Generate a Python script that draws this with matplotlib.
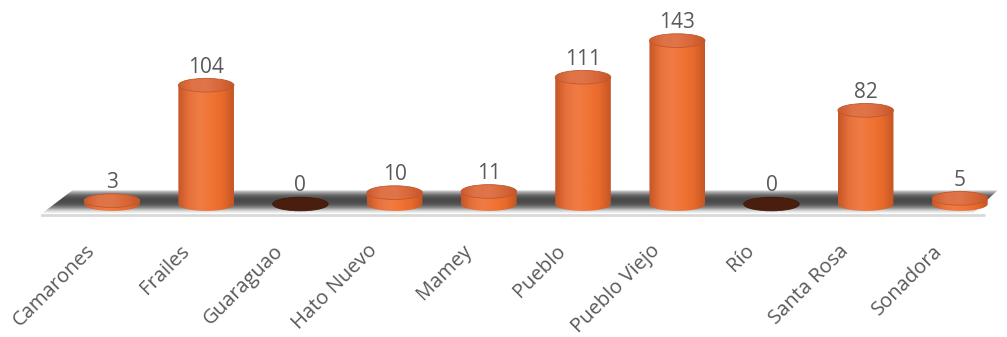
import numpy as np
import matplotlib.pyplot as plt
import matplotlib.transforms as mtransforms
from matplotlib.patches import Ellipse, Polygon
from matplotlib.colors import LinearSegmentedColormap

plt.rcParams['font.family'] = ['Open Sans', 'DejaVu Sans']

categories = ['Camarones', 'Frailes', 'Guaraguao', 'Hato Nuevo', 'Mamey',
              'Pueblo', 'Pueblo Viejo', 'Río', 'Santa Rosa', 'Sonadora']
values = [3, 104, 0, 10, 11, 111, 143, 0, 82, 5]

bar_w = 0.59      # in category units
ell_h = 12.0      # ellipse height in value units
text_col = '#595959'

body_cmap = LinearSegmentedColormap.from_list(
    'body', ['#c65727', '#e8713c', '#f07c45', '#f07434', '#e86a2c', '#c55624'])
top_cmap = LinearSegmentedColormap.from_list(
    'top', ['#cc5c2e', '#df7246', '#e0754a', '#d8673a', '#c55628'])
floor_cmap = LinearSegmentedColormap.from_list(
    'floor', ['#f4f4f4', '#a8a8a8', '#666666', '#4c4c4c', '#4a4a4a',
              '#585858', '#8c8c8c', '#d8d8d8', '#ffffff'])

fig = plt.figure(figsize=(10.07, 3.37), dpi=100)
ax = fig.add_axes([0.041, 0.347, 0.959, 0.641])

# floor shadow band
floor = Polygon([(-0.74, -8), (9.14, -8), (9.4, 12), (-0.42, 12)],
                closed=True, facecolor='none', edgecolor='none')
ax.add_patch(floor)
grad = np.linspace(0, 1, 100).reshape(-1, 1)
im = ax.imshow(grad, cmap=floor_cmap, aspect='auto', extent=(-0.75, 9.45, -8.5, 12.5),
               origin='upper', zorder=1)
im.set_clip_path(floor)

# base line
ax.plot([-0.77, 9.27], [-9.8, -9.8], color='#d9d9d9', lw=2, zorder=1,
        solid_capstyle='butt')

hgrad = np.linspace(0, 1, 100).reshape(1, -1)
for i, v in enumerate(values):
    if v == 0:
        ax.add_patch(Ellipse((i, 0), bar_w, ell_h, facecolor='#4a1e0e',
                             edgecolor='#3a1508', lw=0.5, zorder=3))
    else:
        t = np.linspace(np.pi, 2 * np.pi, 40)
        xs = i + bar_w / 2 * np.cos(t)
        ys = ell_h / 2 * np.sin(t)
        pts = list(zip(xs, ys)) + [(i + bar_w / 2, v), (i - bar_w / 2, v)]
        body = Polygon(pts, closed=True, facecolor='none', edgecolor='none')
        ax.add_patch(body)
        bim = ax.imshow(hgrad, cmap=body_cmap, aspect='auto',
                        extent=(i - bar_w / 2, i + bar_w / 2, -ell_h, v + 1),
                        zorder=3)
        bim.set_clip_path(body)
        top = Ellipse((i, v), bar_w, ell_h, facecolor='none', edgecolor='none')
        ax.add_patch(top)
        tim = ax.imshow(hgrad, cmap=top_cmap, aspect='auto',
                        extent=(i - bar_w / 2, i + bar_w / 2, v - ell_h, v + ell_h),
                        zorder=4)
        tim.set_clip_path(top)
        ax.add_patch(Ellipse((i, v), bar_w, ell_h, facecolor='none',
                             edgecolor='#c0592c', lw=0.6, zorder=5))
    ax.text(i, v + 11, str(v), ha='center', va='baseline', fontsize=15,
            color=text_col, zorder=6)

ax.set_xlim(-0.75, 9.5)
ax.set_ylim(-14, 175)
ax.set_xticks(range(len(categories)))
ax.set_xticklabels(categories, rotation=45, ha='right', rotation_mode='anchor',
                   fontsize=14.5, color=text_col)
ax.tick_params(axis='x', length=0, pad=15)
shift = mtransforms.ScaledTranslation(-27 / 100, 0, fig.dpi_scale_trans)
for lbl in ax.get_xticklabels():
    lbl.set_transform(lbl.get_transform() + shift)
ax.set_yticks([])
for s in ax.spines.values():
    s.set_visible(False)
ax.patch.set_alpha(0)

fig.savefig('out.png', dpi=100)
